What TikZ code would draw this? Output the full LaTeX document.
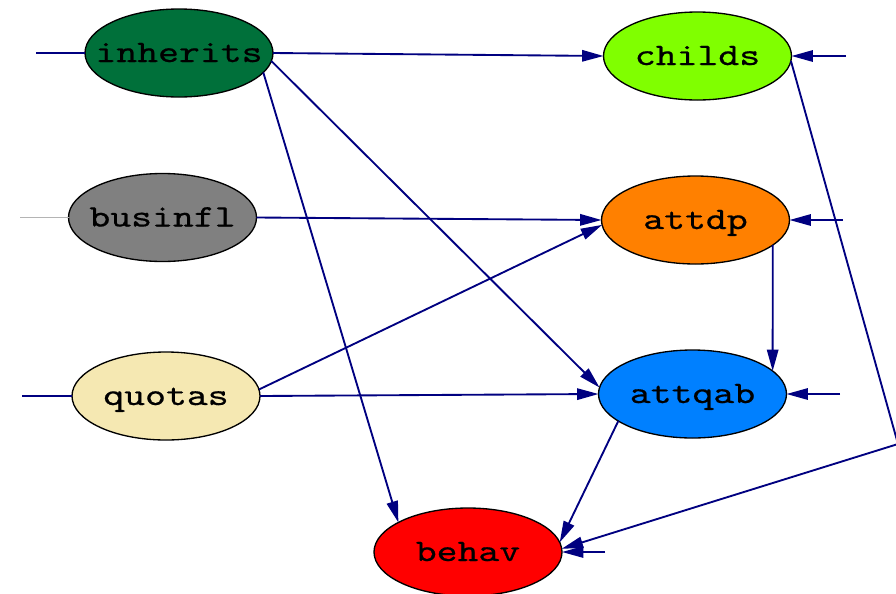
\documentclass[tikz,border=0pt]{standalone}
\usepackage{fontspec}
\usepackage{graphicx}
\usetikzlibrary{shapes.geometric,arrows.meta}
\newfontfamily\lblfont{lmmono10-regular.otf}[FakeBold=0.5]
\definecolor{edgeblue}{HTML}{000080}
\definecolor{stubgray}{HTML}{B4B4B4}
\definecolor{cInh}{HTML}{00703A}
\definecolor{cChi}{HTML}{80FF00}
\definecolor{cBus}{HTML}{808080}
\definecolor{cAtd}{HTML}{FF8000}
\definecolor{cQuo}{HTML}{F5E8B2}
\definecolor{cAtq}{HTML}{0080FF}
\definecolor{cBeh}{HTML}{FF0000}
\newcommand{\nlabel}[1]{\scalebox{1.27}[1]{\lblfont\fontsize{23.5}{26}\selectfont #1}}
\begin{document}
\begin{tikzpicture}[x=0.75pt,y=-0.75pt,
  nd/.style={ellipse, draw=black, line width=1pt, minimum width=141pt, minimum height=66pt, inner sep=0pt, outer sep=0pt},
  txt/.style={inner sep=0pt, outer sep=0pt, anchor=base},
  ln/.style={draw=edgeblue, line width=1.4pt},
  arr/.style={draw=edgeblue, line width=1.4pt, -{Triangle[length=16pt,width=8.5pt]}}]
\useasboundingbox (0,0) rectangle (896,593);

% nodes
\node[nd, fill=cInh] (inherits) at (179,53) {};
\node[nd, fill=cChi] (childs) at (697.5,56) {};
\node[nd, fill=cBus] (businfl) at (162.5,217.5) {};
\node[nd, fill=cAtd] (attdp) at (695.5,220) {};
\node[nd, fill=cQuo] (quotas) at (166,396) {};
\node[nd, fill=cAtq] (attqab) at (692.5,394) {};
\node[nd, fill=cBeh] (behav) at (468,552) {};

\node[txt] (inherits-t) at ([yshift=-6.75pt]inherits.center) {\nlabel{inherits}};
\node[txt] (childs-t) at ([yshift=-6.75pt]childs.center) {\nlabel{childs}};
\node[txt] (businfl-t) at ([yshift=-6.75pt]businfl.center) {\nlabel{businfl}};
\node[txt] (attdp-t) at ([yshift=-6.75pt]attdp.center) {\nlabel{attdp}};
\node[txt] (quotas-t) at ([yshift=-6.75pt]quotas.center) {\nlabel{quotas}};
\node[txt] (attqab-t) at ([yshift=-6.75pt]attqab.center) {\nlabel{attqab}};
\node[txt] (behav-t) at ([yshift=-6.75pt]behav.center) {\nlabel{behav}};

% free ends of stubs
\coordinate (inh-in) at (36,53);
\coordinate (bus-in) at (20,217.5);
\coordinate (quo-in) at (22,396);
\coordinate (chi-in) at (846,56);
\coordinate (atd-in) at (843,220);
\coordinate (atq-in) at (840,394);
\coordinate (beh-in) at (605,552);
\coordinate (corner) at (898,444);

% stubs
\draw[ln] (inh-in) -- (inherits.west);
\draw[draw=stubgray, line width=1.4pt] (bus-in) -- (businfl.west);
\draw[ln] (quo-in) -- (quotas.west);
\draw[arr] (chi-in) -- (childs.east);
\draw[arr] (atd-in) -- (attdp.east);
\draw[arr] (atq-in) -- (attqab.east);
\draw[arr] (beh-in) -- (behav.east);

% edges
\draw[arr] (inherits.east) -- (childs.west);
\draw[arr] (inherits.-5) -- (attqab.176);
\draw[arr] (inherits.-13) -- (behav.157);
\draw[arr] (businfl.east) -- (attdp.west);
\draw[arr] (quotas.4) -- (attdp.-177);
\draw[arr] (quotas.east) -- (attqab.west);
\draw[arr] (attdp.-18.7) -- (attqab.16.7);
\draw[arr] (attqab.-160) -- (behav.6);
\draw[arr] (childs.-3) -- (corner) -- (behav.2);
\end{tikzpicture}
\end{document}
